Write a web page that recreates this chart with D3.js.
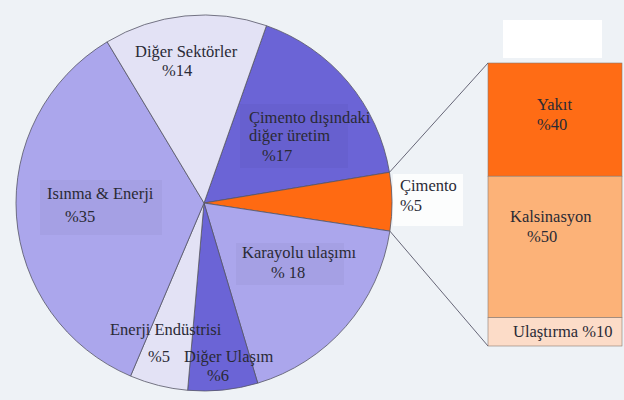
<!DOCTYPE html>
<html>
<head>
<meta charset="utf-8">
<script src="https://cdn.jsdelivr.net/npm/d3@7"></script>
<style>
  html, body { margin: 0; padding: 0; background: #eef2f6; }
  svg { display: block; }
</style>
</head>
<body>
<svg id="chart" width="624" height="400"></svg>
<script>
// ---- Data ----
const pieCategories = ["Çimento dışındaki diğer üretim", "Çimento", "Karayolu ulaşımı", "Diğer Ulaşım", "Enerji Endüstrisi", "Isınma & Enerji", "Diğer Sektörler"];
const pieValues = [17, 5, 18, 6, 5, 35, 14];
const pieColors = ["#6b64d6", "#ff6a12", "#aba6ec", "#6b64d6", "#e3e2f5", "#aba6ec", "#e3e2f5"];
const pieLabels = [
  ["Çimento dışındaki", "diğer üretim", "%17"],
  ["Çimento", "%5"],
  ["Karayolu ulaşımı", "% 18"],
  ["Diğer Ulaşım", "%6"],
  ["Enerji Endüstrisi", "%5"],
  ["Isınma & Enerji", "%35"],
  ["Diğer Sektörler", "%14"]
];
const barCategories = ["Yakıt", "Kalsinasyon", "Ulaştırma"];
const barValues = [40, 50, 10];
const barColors = ["#ff6c15", "#fcb278", "#fcdcc8"];

// ---- Layout ----
const FONT = "'Liberation Serif', 'Times New Roman', Times, serif";
const svg = d3.select("#chart");
const cx = 204, cy = 203, R = 188;
const startDeg = 19.4;

svg.append("rect").attr("x", 503).attr("y", 20).attr("width", 99).attr("height", 38).attr("fill", "#ffffff");
svg.append("rect").attr("x", 393).attr("y", 174).attr("width", 70).attr("height", 52).attr("fill", "#ffffff").attr("opacity", 0.8);

const pie = d3.pie().sort(null).value(d => d)
  .startAngle(startDeg * Math.PI / 180)
  .endAngle(startDeg * Math.PI / 180 + 2 * Math.PI);
const arcs = pie(pieValues);
const arc = d3.arc().innerRadius(0).outerRadius(R);

const g = svg.append("g").attr("transform", `translate(${cx},${cy})`);
g.selectAll("path.slice").data(arcs).enter().append("path")
  .attr("class", "slice")
  .attr("d", arc)
  .attr("fill", (d, i) => pieColors[i])
  .attr("stroke", "#555566")
  .attr("stroke-width", 0.8);

const boxes = [
  {x: 240, y: 104, w: 108, h: 64},
  {x: 40, y: 180, w: 122, h: 55},
  {x: 236, y: 243, w: 108, h: 42}
];
svg.selectAll("rect.lbox").data(boxes).enter().append("rect")
  .attr("class", "lbox")
  .attr("x", d => d.x).attr("y", d => d.y).attr("width", d => d.w).attr("height", d => d.h)
  .attr("fill", "#000").attr("opacity", 0.03);

const barX = 488, barW = 134;
const yBar = d3.scaleLinear().domain([0, d3.sum(barValues)]).range([63, 346]);
const cum = d3.cumsum(barValues);
const barData = barValues.map((v, i) => ({v, i, y0: i === 0 ? 0 : cum[i - 1], y1: cum[i]}));
svg.selectAll("rect.bar").data(barData).enter().append("rect")
  .attr("class", "bar")
  .attr("x", barX).attr("width", barW)
  .attr("y", d => yBar(d.y0)).attr("height", d => yBar(d.y1) - yBar(d.y0))
  .attr("fill", d => barColors[d.i])
  .attr("stroke", "#8a7a70").attr("stroke-width", 0.6);

const cem = arcs[1];
const edgePt = a => [cx + R * Math.sin(a), cy - R * Math.cos(a)];
const pTop = edgePt(cem.startAngle), pBot = edgePt(cem.endAngle);
svg.append("line").attr("x1", pTop[0]).attr("y1", pTop[1]).attr("x2", barX).attr("y2", yBar(0))
  .attr("stroke", "#666677").attr("stroke-width", 1);
svg.append("line").attr("x1", pBot[0]).attr("y1", pBot[1]).attr("x2", barX).attr("y2", yBar(d3.sum(barValues)))
  .attr("stroke", "#666677").attr("stroke-width", 1);

const fs = 16.5;
const pieLabelPos = [
  [[249, 123], [249, 141], [262, 161]],
  [[400, 191], [400, 211]],
  [[242, 258], [271, 278]],
  [[184, 362], [207, 381]],
  [[110, 335], [148, 362]],
  [[47, 199], [65, 222]],
  [[135, 57], [162, 76]]
];
function addText(x, y, t) {
  svg.append("text").attr("x", x).attr("y", y)
    .attr("font-family", FONT).attr("font-size", fs)
    .attr("fill", "#2a2a35").text(t);
}
pieLabels.forEach((lines, i) => {
  lines.forEach((t, j) => addText(pieLabelPos[i][j][0], pieLabelPos[i][j][1], t));
});

const barLabelLines = [
  [barCategories[0], "%" + barValues[0]],
  [barCategories[1], "%" + barValues[1]],
  [barCategories[2] + " %" + barValues[2]]
];
const barLabelPos = [
  [[537, 110], [537, 130]],
  [[510, 222], [527, 242]],
  [[513, 337]]
];
barLabelLines.forEach((lines, i) => {
  lines.forEach((t, j) => addText(barLabelPos[i][j][0], barLabelPos[i][j][1], t));
});
</script>
</body>
</html>
